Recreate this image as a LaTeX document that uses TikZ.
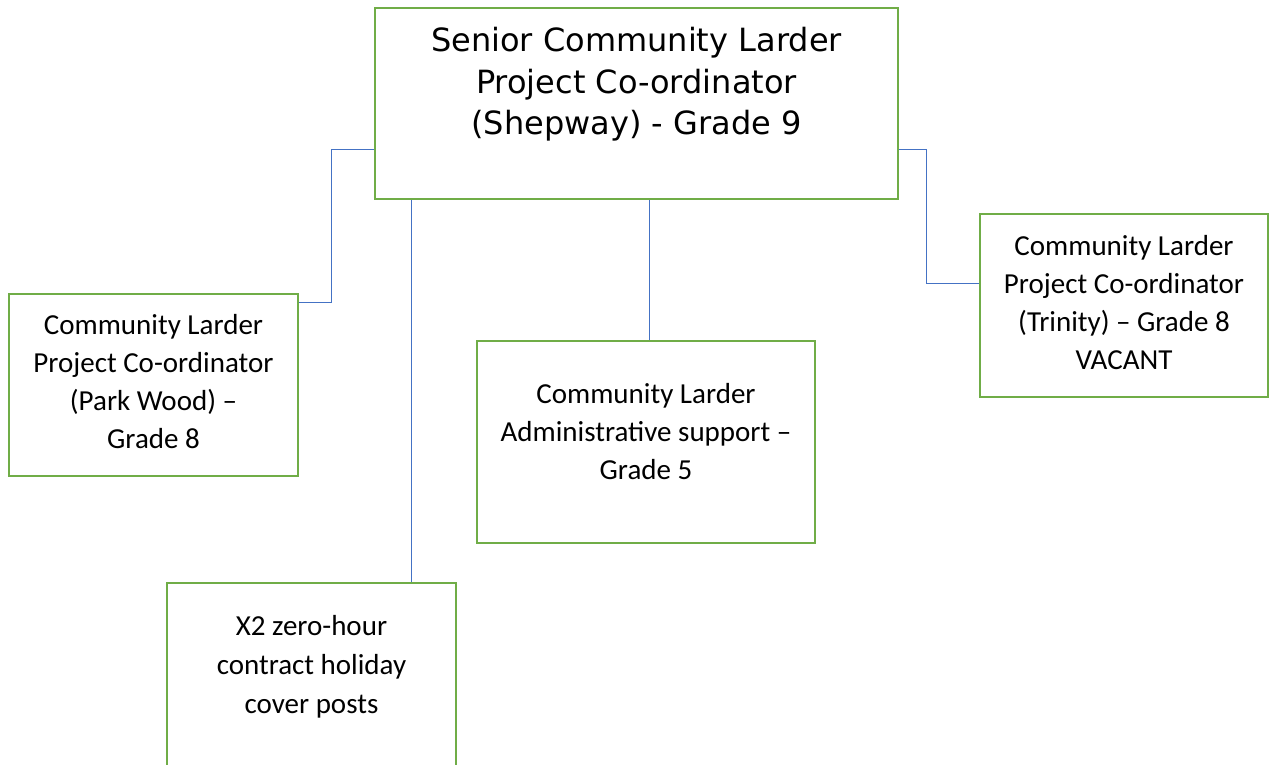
\documentclass[tikz,border=0pt]{standalone}
\usepackage{fontspec}
\setmainfont{Carlito}
\newfontfamily\seniorfont{DejaVu Sans}
\usepackage{tikz}
\usetikzlibrary{calc}
\pgfdeclarelayer{edgelayer}
\pgfdeclarelayer{nodelayer}
\pgfsetlayers{edgelayer,nodelayer,main}
\definecolor{postgreen}{HTML}{70AD47}
\definecolor{linkblue}{HTML}{4472C4}
\tikzstyle{post}=[rectangle,draw=postgreen,line width=2.8pt,fill=white,inner sep=0pt]
\tikzstyle{post_text}=[anchor=north,align=center,inner sep=0pt,font=\fontsize{29}{38.2}\selectfont]
\tikzstyle{head_text}=[anchor=north,align=center,inner sep=0pt,font=\seniorfont\fontsize{32}{41.5}\selectfont]
\tikzstyle{link}=[draw=linkblue,line width=1pt]

\begin{document}
\begin{tikzpicture}[x=1pt,y=-1pt]
	\useasboundingbox (0,0) rectangle (1269,764);
	\begin{pgfonlayer}{nodelayer}
		\node [style=post, minimum width=523, minimum height=191] (0) at (636.5, 103.5) {};
		\node [style=post, minimum width=289, minimum height=182] (1) at (153.5, 385) {};
		\node [style=post, minimum width=338, minimum height=202] (2) at (646, 442) {};
		\node [style=post, minimum width=288, minimum height=183] (3) at (1124, 305.5) {};
		\node [style=post, minimum width=289, minimum height=240] (4) at (311.5, 703) {};
		\node [style={head_text}] (0t) at (636.5, 27) {Senior Community Larder\\Project Co-ordinator\\(Shepway) - Grade 9};
		\node [style={post_text}] (1t) at (153.5, 314) {Community Larder\\Project Co-ordinator\\(Park Wood) --\\Grade 8};
		\node [style={post_text}] (2t) at (646, 383) {Community Larder\\Administrative support --\\Grade 5};
		\node [style={post_text}] (3t) at (1124, 235) {Community Larder\\Project Co-ordinator\\(Trinity) -- Grade 8\\VACANT};
		\node [style={post_text}, font=\fontsize{29}{39}\selectfont] (4t) at (311.5, 615) {X2 zero-hour\\contract holiday\\cover posts};
	\end{pgfonlayer}
	\begin{pgfonlayer}{edgelayer}
		\draw [style=link] ([yshift=-45.5pt]0.west) -- ++(-42,0) |- ([yshift=83pt]1.east);
		\draw [style=link] ([yshift=-45.5pt]0.east) -- ++(27,0) |- ([yshift=22.5pt]3.west);
		\draw [style=link] ([xshift=12.5pt]0.south) -- ([xshift=12.5pt]0.south |- 2.north);
		\draw [style=link] ([xshift=-225.5pt]0.south) -- ([xshift=-225.5pt]0.south |- 4.north);
	\end{pgfonlayer}
\end{tikzpicture}
\end{document}
